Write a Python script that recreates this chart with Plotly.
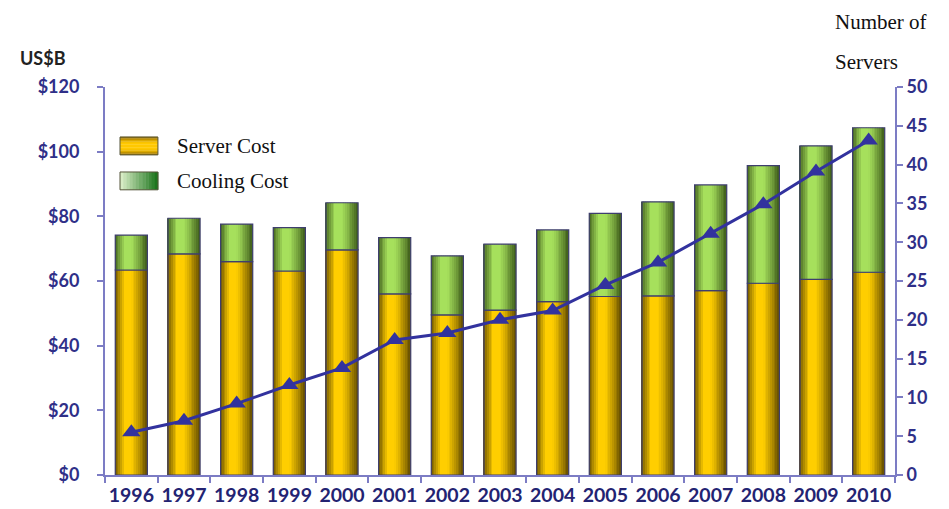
import plotly.graph_objects as go

# --- data -------------------------------------------------------------
years = ["1996", "1997", "1998", "1999", "2000", "2001", "2002", "2003",
         "2004", "2005", "2006", "2007", "2008", "2009", "2010"]
server_cost = [63.4, 68.4, 66.0, 63.1, 69.6, 56.0, 49.5, 51.0,
               53.6, 55.2, 55.4, 57.0, 59.3, 60.5, 62.7]
cooling_cost = [10.8, 11.0, 11.6, 13.4, 14.6, 17.4, 18.3, 20.4,
                22.2, 25.7, 29.1, 32.7, 36.4, 41.3, 44.7]
num_servers = [5.5, 7.0, 9.2, 11.6, 13.8, 17.4, 18.3, 20.0,
               21.2, 24.5, 27.4, 31.1, 34.9, 39.1, 43.1]
money_ticks = [0, 20, 40, 60, 80, 100, 120]
money_labels = ["$0", "$20", "$40", "$60", "$80", "$100", "$120"]
count_ticks = list(range(0, 55, 5))

# --- styling helpers ----------------------------------------------------
BAR_W = 0.61
N_SLICES = 18
SANS = "Lato, 'Open Sans', sans-serif"
SERIF = "'Liberation Serif', 'DejaVu Serif', serif"
TICK_BLUE = "#2f2f88"
AXIS_BLUE = "#7c7cc4"


def lerp(c1, c2, f):
    return "rgb({},{},{})".format(*[round(a + (b - a) * f) for a, b in zip(c1, c2)])


def shade(t):
    """Brightness profile across a cylinder-like bar (0 = left edge, 1 = right)."""
    if t < 0.30:
        return 0.1 + 0.9 * (t / 0.30) ** 1.1
    if t < 0.50:
        return 1.0
    return max(0.0, 1.0 - 1.0 * ((t - 0.50) / 0.50) ** 1.2)


base_server = [0] * len(years)
base_cool = server_cost

fig = go.Figure()


def add_cylinder(values, base, dark, bright, name):
    step = BAR_W / N_SLICES
    for i in range(N_SLICES):
        t = (i + 0.5) / N_SLICES
        fig.add_trace(go.Bar(
            x=years, y=values, base=base, name=name,
            offset=-BAR_W / 2 + i * step, width=step * 1.05,
            marker=dict(color=lerp(dark, bright, shade(t)), line=dict(width=0)),
            showlegend=False, hoverinfo="skip"))
    # thin outline around each segment
    fig.add_trace(go.Bar(
        x=years, y=values, base=base, name=name,
        offset=-BAR_W / 2, width=BAR_W,
        marker=dict(color="rgba(0,0,0,0)", line=dict(color="#3e3e6e", width=1.2)),
        showlegend=False))


add_cylinder(server_cost, base_server, (100, 76, 0), (255, 206, 0), "Server Cost")
add_cylinder(cooling_cost, base_cool, (62, 92, 26), (166, 224, 92), "Cooling Cost")

fig.add_trace(go.Scatter(
    x=years, y=num_servers, yaxis="y2", mode="lines+markers",
    name="Number of Servers",
    line=dict(color="#32329e", width=3),
    marker=dict(symbol="triangle-up", size=16, color="#32329e"),
    showlegend=False))

# --- axes ---------------------------------------------------------------
fig.update_layout(
    width=949, height=509,
    margin=dict(l=105, r=54, t=87, b=34),
    paper_bgcolor="white", plot_bgcolor="white",
    barmode="overlay", bargap=0.39,
    showlegend=False,
    xaxis=dict(
        type="category", range=[-0.5, len(years) - 0.5],
        tickson="boundaries", ticks="outside", ticklen=6,
        tickcolor=AXIS_BLUE, tickwidth=1.5, tickangle=0, automargin=False,
        ticklabelstandoff=2,
        showline=True, linecolor=AXIS_BLUE, linewidth=2,
        showgrid=False,
        tickfont=dict(family=SANS, size=19.5, color="#232372", weight="bold"),
    ),
    yaxis=dict(
        range=[0, 120], tickvals=money_ticks, ticktext=money_labels,
        ticks="outside", ticklen=6, tickcolor=AXIS_BLUE, tickwidth=1.5,
        ticklabelstandoff=14,
        showline=True, linecolor=AXIS_BLUE, linewidth=2, automargin=False,
        showgrid=False, zeroline=False,
        tickfont=dict(family=SANS, size=18, color=TICK_BLUE, weight="bold"),
    ),
    yaxis2=dict(
        range=[0, 50], tickvals=count_ticks, overlaying="y", side="right",
        ticks="outside", ticklen=6, tickcolor=AXIS_BLUE, tickwidth=1.5,
        showline=True, linecolor=AXIS_BLUE, linewidth=2, automargin=False,
        showgrid=False, zeroline=False,
        tickfont=dict(family=SANS, size=18, color=TICK_BLUE, weight="bold"),
    ),
    yaxis3=dict(
        range=[0, 50], tickvals=count_ticks, overlaying="y", side="right",
        ticks="inside", ticklen=6, tickcolor=AXIS_BLUE, tickwidth=1.5,
        showticklabels=False, showline=False, showgrid=False, zeroline=False,
        automargin=False,
    ),
)

# --- titles -------------------------------------------------------------
fig.add_annotation(x=-0.11, y=1.075, xref="paper", yref="paper", xanchor="left",
                   yanchor="middle", showarrow=False, text="<b>US$B</b>",
                   font=dict(family=SANS, size=18, color="#222222"))
fig.add_annotation(x=0.922, y=1.168, xref="paper", yref="paper", xanchor="left",
                   yanchor="middle", showarrow=False, text="Number of",
                   font=dict(family=SERIF, size=21, color="#111111"))
fig.add_annotation(x=0.922, y=1.064, xref="paper", yref="paper", xanchor="left",
                   yanchor="middle", showarrow=False, text="Servers",
                   font=dict(family=SERIF, size=21, color="#111111"))

# --- legend (hand drawn) -------------------------------------------------
sw_x0, sw_x1 = 0.019, 0.067
N_BANDS = 12

# Server Cost swatch: dark gold rim, bright yellow middle (horizontal bands)
y0, y1 = 0.825, 0.871
h = (y1 - y0) / N_BANDS
for i in range(N_BANDS):
    t = (i + 0.5) / N_BANDS
    f = 1.0 - abs(t - 0.5) * 2
    fig.add_shape(type="rect", xref="paper", yref="paper",
                  x0=sw_x0, x1=sw_x1, y0=y0 + i * h, y1=y0 + (i + 1) * h + 0.0005,
                  fillcolor=lerp((150, 110, 0), (255, 200, 0), min(1.0, f * 1.6)),
                  line=dict(width=0))
fig.add_shape(type="rect", xref="paper", yref="paper", x0=sw_x0, x1=sw_x1, y0=y0, y1=y1,
              fillcolor="rgba(0,0,0,0)", line=dict(color="#55553a", width=1))
fig.add_annotation(x=0.088, y=(y0 + y1) / 2, xref="paper", yref="paper",
                   xanchor="left", yanchor="middle", showarrow=False, text="Server Cost",
                   font=dict(family=SERIF, size=21, color="#111111"))

# Cooling Cost swatch: pale green to deep green (vertical bands)
y0, y1 = 0.735, 0.781
w = (sw_x1 - sw_x0) / N_BANDS
for i in range(N_BANDS):
    fig.add_shape(type="rect", xref="paper", yref="paper",
                  x0=sw_x0 + i * w, x1=sw_x0 + (i + 1) * w + 0.0005, y0=y0, y1=y1,
                  fillcolor=lerp((215, 236, 196), (30, 118, 30), i / (N_BANDS - 1)),
                  line=dict(width=0))
fig.add_shape(type="rect", xref="paper", yref="paper", x0=sw_x0, x1=sw_x1, y0=y0, y1=y1,
              fillcolor="rgba(0,0,0,0)", line=dict(color="#55553a", width=1))
fig.add_annotation(x=0.088, y=(y0 + y1) / 2, xref="paper", yref="paper",
                   xanchor="left", yanchor="middle", showarrow=False, text="Cooling Cost",
                   font=dict(family=SERIF, size=21, color="#111111"))

fig.write_html("out.html")
